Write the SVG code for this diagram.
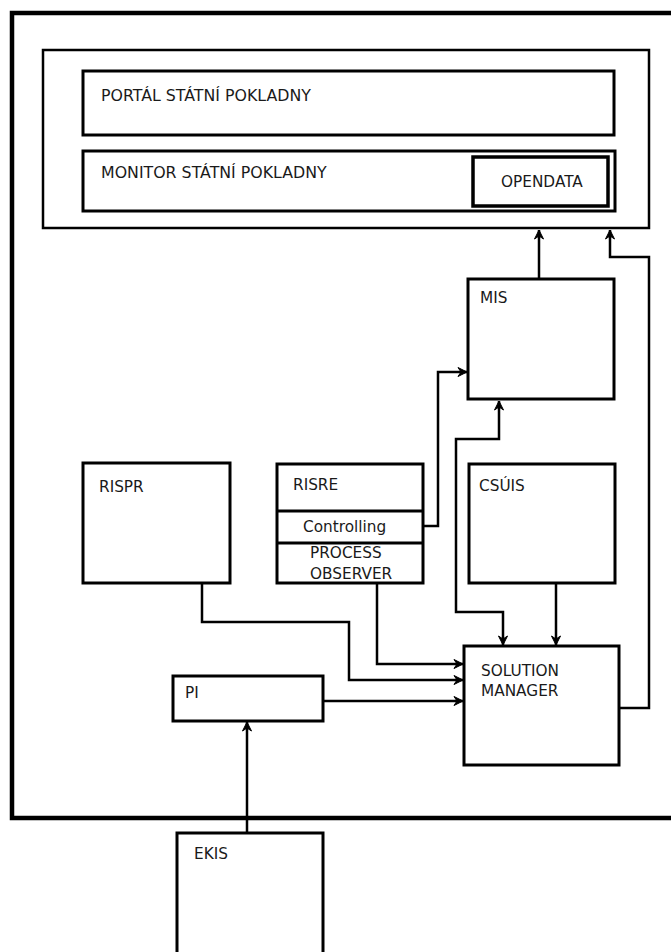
<svg xmlns="http://www.w3.org/2000/svg" width="671" height="952" viewBox="0 0 671 952">
<style>
.box{fill:#fff;stroke:#000;stroke-width:3}
.frame{fill:none;stroke:#000;stroke-width:4.5}
.cont{fill:#fff;stroke:#000;stroke-width:2.5}
.con{fill:none;stroke:#000;stroke-width:2.5;marker-end:url(#arr)}
.t{font-family:"DejaVu Sans",Verdana,sans-serif;font-size:15.3px;fill:#1a1a1a}
.tl{font-family:"DejaVu Sans",Verdana,sans-serif;font-size:15.8px;fill:#1a1a1a}
</style>
<defs>
<marker id="arr" markerUnits="userSpaceOnUse" markerWidth="12" markerHeight="12" viewBox="-10 -6 12 12" refX="0" refY="0" orient="auto-start-reverse">
<path d="M0,0 L-9,-4.5 L-6,0 L-9,4.5 Z" fill="#000" stroke="#000" stroke-width="1"/>
</marker>
</defs>
<rect width="671" height="952" fill="#fff"/>
<rect class="frame" x="12" y="13" width="675" height="805"/>
<g id="container">
<rect class="cont" x="43" y="50" width="606" height="178"/>
</g>
<g id="portal">
<rect class="box" x="83" y="71" width="531" height="64"/>
<text class="tl" x="101" y="101">PORTÁL STÁTNÍ POKLADNY</text>
</g>
<g id="monitor">
<rect class="box" x="83" y="151" width="532" height="60"/>
<text class="tl" x="101" y="178">MONITOR STÁTNÍ POKLADNY</text>
</g>
<g id="opendata">
<rect class="box" x="473" y="157" width="135" height="49" style="stroke-width:3.5"/>
<text class="t" x="501" y="187">OPENDATA</text>
</g>
<g id="mis">
<rect class="box" x="468" y="279" width="146" height="120"/>
<text class="t" x="480" y="303">MIS</text>
</g>
<g id="rispr">
<rect class="box" x="83" y="463" width="147" height="120"/>
<text class="t" x="99" y="492">RISPR</text>
</g>
<g id="risre">
<rect class="box" x="277" y="464" width="146" height="119"/>
<line x1="277" y1="511" x2="423" y2="511" stroke="#000" stroke-width="3"/>
<line x1="277" y1="543" x2="423" y2="543" stroke="#000" stroke-width="3"/>
<text class="t" x="293" y="490">RISRE</text>
<text class="t" x="303" y="532">Controlling</text>
<text class="t" x="310" y="558">PROCESS</text>
<text class="t" x="310" y="579">OBSERVER</text>
</g>
<g id="csuis">
<rect class="box" x="469" y="464" width="146" height="119"/>
<text class="t" x="479" y="491">CSÚIS</text>
</g>
<g id="sm">
<rect class="box" x="464" y="646" width="155" height="119"/>
<text class="t" x="481" y="676">SOLUTION</text>
<text class="t" x="481" y="696">MANAGER</text>
</g>
<g id="pi">
<rect class="box" x="173" y="676" width="150" height="45"/>
<text class="t" x="185" y="698">PI</text>
</g>
<g id="ekis">
<rect class="box" x="177" y="833" width="146" height="130"/>
<text class="t" x="194" y="859">EKIS</text>
</g>
<g id="connectors">
<path class="con" d="M539,279 V230"/>
<path class="con" d="M619,708 H649 V257 H610 V230"/>
<path class="con" d="M423,526 H438 V372 H467"/>
<path class="con" d="M503,645 V612 H456 V439 H499 V401" style="marker-start:url(#arr)"/>
<path class="con" d="M556,583 V645"/>
<path class="con" d="M377,583 V664 H463"/>
<path class="con" d="M202,583 V622 H349 V680 H463"/>
<path class="con" d="M323,701 H463"/>
<path class="con" d="M247,833 V722"/>
</g>
</svg>
